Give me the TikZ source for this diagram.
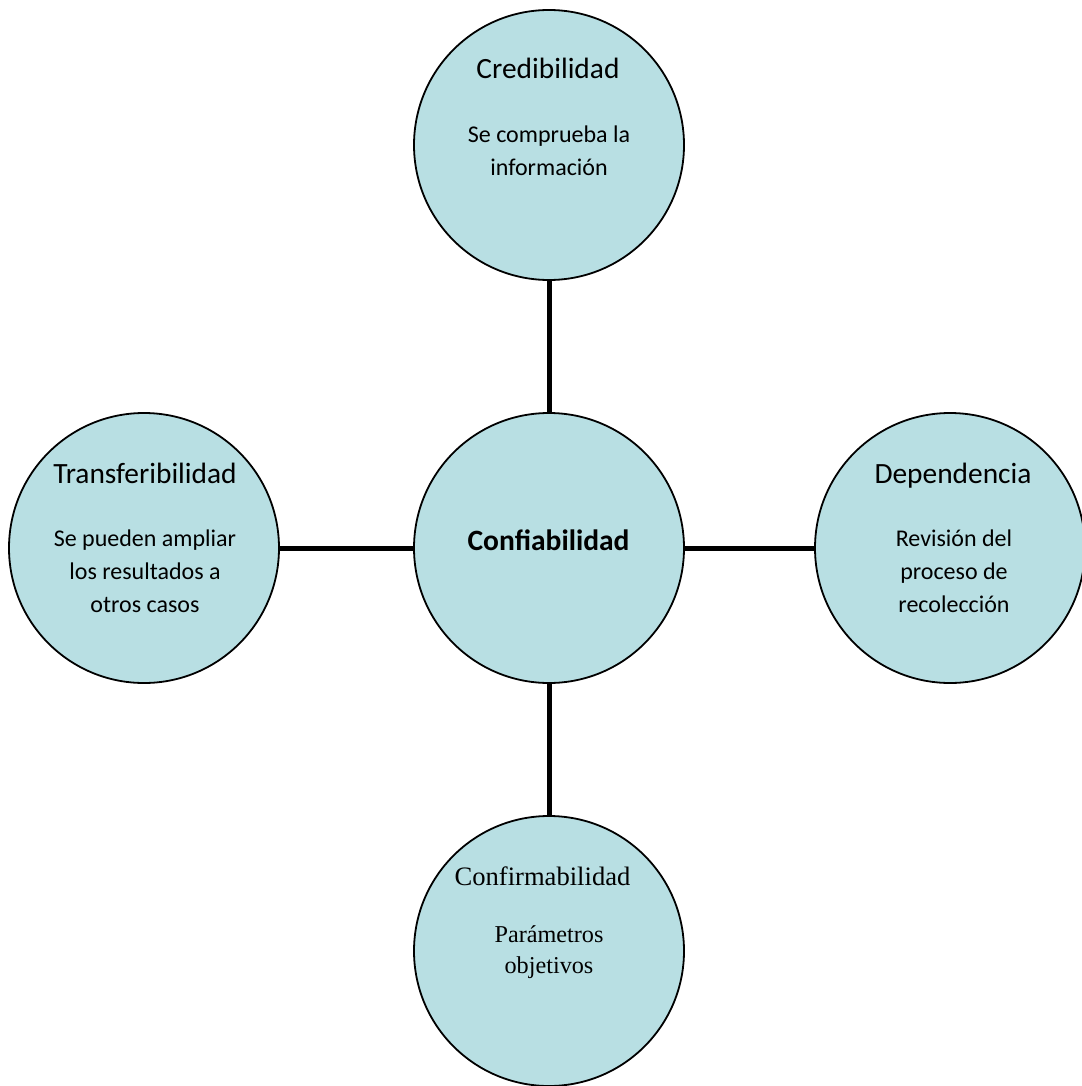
\documentclass[tikz,border=0pt]{standalone}
\usepackage{fontspec}
\setmainfont{Carlito}
\newfontfamily\timesfont{Liberation Serif}
\definecolor{fillc}{HTML}{B8DFE3}
\begin{document}
\begin{tikzpicture}[x=1pt,y=-1pt,
  bubble/.style={circle,draw=black,line width=1.8pt,fill=fillc,minimum size=270pt,inner sep=0pt},
  link/.style={line width=5pt,draw=black},
  ttl/.style={anchor=base,inner sep=0pt,font=\fontsize{29.4}{34}\selectfont},
  body/.style={anchor=base,inner sep=0pt,align=center,font=\fontsize{24}{33}\selectfont},
  ttlT/.style={anchor=base,inner sep=0pt,font=\timesfont\fontsize{26.6}{32}\selectfont},
  bodyT/.style={anchor=base,inner sep=0pt,align=center,font=\timesfont\fontsize{24.2}{31}\selectfont},
  main/.style={anchor=base,inner sep=0pt,font=\bfseries\fontsize{29.5}{34}\selectfont}
]
\useasboundingbox (0,0) rectangle (1081,1086);
\node[bubble] (conf) at (549,548) {};
\node[bubble] (cred) at (549,145) {};
\node[bubble] (trans) at (144,548) {};
\node[bubble] (dep) at (950,548) {};
\node[bubble] (confirm) at (549,951) {};

\draw[link] (cred) -- (conf);
\draw[link] (trans) -- (conf);
\draw[link] (conf) -- (dep);
\draw[link] (conf) -- (confirm);

\node[main] (tconf) at (548.5,550) {Confiabilidad};

\node[ttl] (tcred) at (548,79) {Credibilidad};
\node[body] (bcred) at (549,176) {Se comprueba la\\información};

\node[ttl] (ttrans) at (145,483) {Transferibilidad};
\node[body] (btrans) at (145,612) {Se pueden ampliar\\los resultados a\\otros casos};

\node[ttl] (tdep) at (953,483) {Dependencia};
\node[body] (bdep) at (954,612) {Revisión del\\proceso de\\recolección};

\node[ttlT] (tconfirm) at (542.5,885) {Confirmabilidad};
\node[bodyT] (bconfirm) at (549,973.5) {Parámetros\\objetivos};
\end{tikzpicture}
\end{document}
